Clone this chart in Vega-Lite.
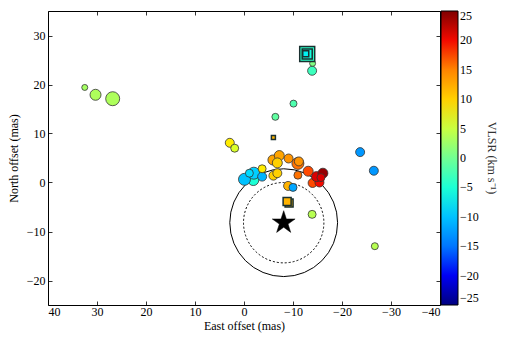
{
  "$schema": "https://vega.github.io/schema/vega-lite/v6.json",
  "width": 392,
  "height": 294,
  "autosize": {"type": "none"},
  "padding": {"left": 48, "top": 11, "right": 65, "bottom": 36},
  "background": "white",
  "config": {
    "font": "Liberation Serif",
    "view": {"stroke": "black", "strokeWidth": 1},
    "axis": {
      "labelFont": "Liberation Serif", "labelFontSize": 12, "labelColor": "black",
      "titleFont": "Liberation Serif", "titleFontSize": 12, "titleFontWeight": "normal", "titleColor": "black",
      "tickColor": "black", "tickWidth": 0.8, "tickSize": -4, "domain": false, "grid": false
    },
    "legend": {
      "orient": "right", "offset": 0, "padding": 0,
      "gradientLength": 294, "gradientThickness": 17,
      "gradientStrokeColor": "black", "gradientStrokeWidth": 1,
      "labelFont": "Liberation Serif", "labelFontSize": 12, "labelColor": "black", "labelOffset": 5,
      "titleFont": "Liberation Serif", "titleFontSize": 12, "titleFontWeight": "normal", "titleColor": "#333"
    }
  },
  "datasets": {
    "spots": [
      {"x": 32.5, "y": 19.4, "v": 3, "flux": 36},
      {"x": 30.3, "y": 17.9, "v": 3.5, "flux": 121},
      {"x": 26.8, "y": 17.1, "v": 3.5, "flux": 196},
      {"x": -14.0, "y": 24.3, "v": 1, "flux": 36},
      {"x": -13.9, "y": 22.8, "v": -3, "flux": 81},
      {"x": -10.1, "y": 16.1, "v": -2, "flux": 49},
      {"x": -6.4, "y": 13.4, "v": -1, "flux": 49},
      {"x": 2.9, "y": 8.1, "v": 8, "flux": 81},
      {"x": 1.9, "y": 7.0, "v": 6, "flux": 64},
      {"x": -23.7, "y": 6.2, "v": -13, "flux": 81},
      {"x": -26.5, "y": 2.4, "v": -13, "flux": 81},
      {"x": -26.7, "y": -13.0, "v": 4, "flux": 49},
      {"x": -13.9, "y": -6.5, "v": 4, "flux": 64},
      {"x": -9.0, "y": -0.7, "v": 12, "flux": 81},
      {"x": -10.0, "y": -1.0, "v": -12, "flux": 64},
      {"x": -1.9, "y": 0.5, "v": -5, "flux": 121},
      {"x": -0.1, "y": 0.65, "v": -10, "flux": 144},
      {"x": -2.0, "y": 1.9, "v": -9, "flux": 144},
      {"x": -1.1, "y": 1.9, "v": -8, "flux": 64},
      {"x": -3.7, "y": 1.2, "v": -11, "flux": 81},
      {"x": -3.7, "y": 2.8, "v": 8, "flux": 64},
      {"x": -6.0, "y": 1.4, "v": 10, "flux": 81},
      {"x": -6.8, "y": 1.9, "v": 10, "flux": 81},
      {"x": -5.9, "y": 4.6, "v": 13, "flux": 100},
      {"x": -7.2, "y": 5.5, "v": 13, "flux": 100},
      {"x": -6.8, "y": 4.0, "v": 10, "flux": 100},
      {"x": -9.1, "y": 4.9, "v": 14, "flux": 81},
      {"x": -11.0, "y": 3.9, "v": 16, "flux": 144},
      {"x": -11.2, "y": 4.3, "v": 14, "flux": 81},
      {"x": -11.0, "y": 1.5, "v": 16, "flux": 64},
      {"x": -13.1, "y": 2.3, "v": 18, "flux": 100},
      {"x": -14.0, "y": -0.1, "v": 18, "flux": 81},
      {"x": -15.4, "y": 0.0, "v": 20, "flux": 81},
      {"x": -14.8, "y": 1.2, "v": 21, "flux": 100},
      {"x": -16.1, "y": 1.9, "v": 24, "flux": 100},
      {"x": -15.7, "y": 1.0, "v": 21, "flux": 64}
    ],
    "squares": [
      {"x": -12.9, "y": 26.2, "v": -4, "flux": 225},
      {"x": -12.9, "y": 26.2, "v": -6, "flux": 100},
      {"x": -12.6, "y": 26.3, "v": -7, "flux": 36},
      {"x": -9.2, "y": -4.2, "v": 12, "flux": 64},
      {"x": -8.8, "y": -3.9, "v": 12, "flux": 64},
      {"x": -6.0, "y": 9.2, "v": 12, "flux": 16}
    ],
    "star": [{"x": -8.1, "y": -8.2}]
  },
  "layer": [
    {
      "encoding": {
        "x": {"field": "x", "type": "quantitative", "scale": {"domain": [-40, 40], "reverse": true, "nice": false, "zero": false},
              "axis": {"values": [40, 30, 20, 10, 0, -10, -20, -30, -40], "title": "East offset (mas)", "labelPadding": 5, "titlePadding": 3}},
        "y": {"field": "y", "type": "quantitative", "scale": {"domain": [-25, 35], "nice": false, "zero": false},
              "axis": {"values": [-20, -10, 0, 10, 20, 30], "title": "North offset (mas)", "labelPadding": 7, "titlePadding": 6}}
      },
      "layer": [
        {"data": {"name": "star"}, "mark": {"type": "point", "shape": "circle", "filled": false, "stroke": "black", "strokeWidth": 1, "size": 11620, "opacity": 1}},
        {"data": {"name": "star"}, "mark": {"type": "point", "shape": "circle", "filled": false, "stroke": "black", "strokeWidth": 1, "strokeDash": [2, 2], "size": 6460, "opacity": 1}},
        {
          "data": {"name": "spots"},
          "mark": {"type": "point", "shape": "circle", "filled": true, "opacity": 1, "stroke": "#333", "strokeWidth": 0.8},
          "encoding": {
            "color": {"field": "v", "type": "quantitative",
              "scale": {"domain": [-25, -19.5, -18.75, -8, -7.5, -6.25, 7, 7.5, 8, 19.5, 20.5, 25],
                        "range": ["#000080", "#0000ff", "#0000ff", "#00dbff", "#00e6f7", "#15ffe2", "#eeff08", "#f7f500", "#ffec00", "#ff1300", "#e80000", "#800000"]},
              "legend": {"title": "VLSR (km s⁻¹)", "values": [-25, -20, -15, -10, -5, 0, 5, 10, 15, 20, 25], "titleOrient": "right", "titleAnchor": "middle", "titlePadding": 6,
                         "encode": {"labels": {"baseline": {"value": "middle"}},
                                    "title": {"angle": {"value": 270}}}}},
            "size": {"field": "flux", "type": "quantitative", "scale": null, "legend": null}
          }
        },
        {
          "data": {"name": "squares"},
          "mark": {"type": "point", "shape": "square", "filled": true, "opacity": 1, "stroke": "#1a3030", "strokeWidth": 1.5},
          "encoding": {
            "color": {"field": "v", "type": "quantitative", "legend": null},
            "size": {"field": "flux", "type": "quantitative", "scale": null, "legend": null}
          }
        },
        {
          "data": {"name": "star"},
          "mark": {"type": "point", "shape": "M0,-1L0.2245,-0.309L0.951,-0.309L0.363,0.118L0.588,0.809L0,0.382L-0.588,0.809L-0.363,0.118L-0.951,-0.309L-0.2245,-0.309Z", "filled": true, "fill": "black", "stroke": "black", "strokeWidth": 0.5, "opacity": 1, "size": 576}
        }
      ]
    },
    {
      "data": {"name": "star"},
      "mark": {"type": "point", "opacity": 0},
      "encoding": {
        "x": {"field": "x", "type": "quantitative", "scale": {"domain": [-40, 40], "reverse": true, "nice": false, "zero": false},
              "axis": {"orient": "top", "values": [40, 30, 20, 10, 0, -10, -20, -30, -40], "labels": false, "title": null}},
        "y": {"field": "y", "type": "quantitative", "scale": {"domain": [-25, 35], "nice": false, "zero": false},
              "axis": {"orient": "right", "values": [-20, -10, 0, 10, 20, 30], "labels": false, "title": null}}
      }
    }
  ],
  "resolve": {"scale": {"x": "independent", "y": "independent"}}
}
